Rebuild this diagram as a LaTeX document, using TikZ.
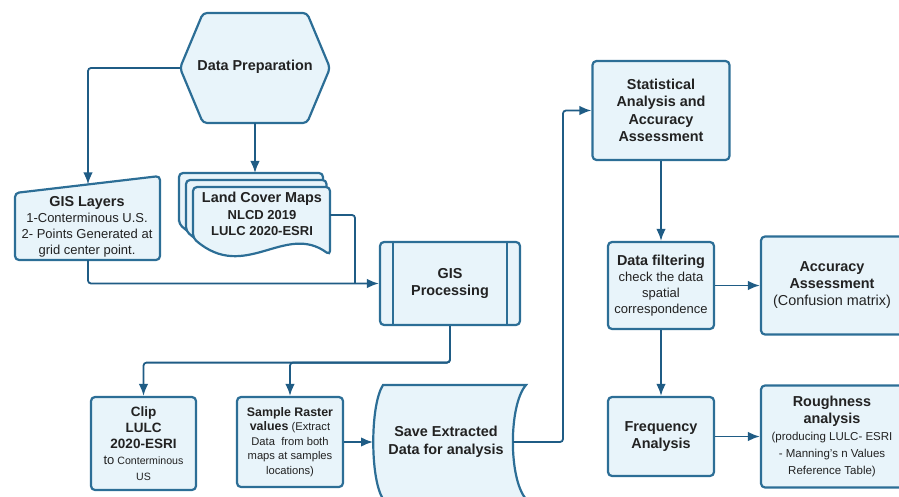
\documentclass[tikz,border=0pt]{standalone}
\usepackage{fontspec}
\setmainfont{Liberation Sans}
\usetikzlibrary{arrows.meta}
\definecolor{bordc}{HTML}{2C6E96}
\definecolor{linec}{HTML}{1F5C85}
\definecolor{fillc}{HTML}{E8F4FA}
\definecolor{txtc}{HTML}{222222}
\newcommand\ttl{\fontsize{14.4}{17}\selectfont\bfseries}
\newcommand\bdy{\fontsize{13}{16}\selectfont}
\tikzset{
  box/.style={draw=bordc, fill=fillc, line width=2.2pt, rounded corners=4pt,
    align=center, text=txtc, inner sep=2pt},
  outline/.style={draw=bordc, fill=fillc, line width=2.2pt, rounded corners=4pt},
  lbl/.style={align=center, text=txtc, inner sep=0pt},
  flow/.style={draw=linec, line width=1.8pt, rounded corners=3pt,
    -{Latex[length=12pt,width=9.5pt]}},
  link/.style={draw=linec, line width=1.8pt, rounded corners=3pt}
}

\begin{document}
\begin{tikzpicture}[x=1pt, y=-1pt]
    \useasboundingbox (0,0) rectangle (899,497);
    \draw[outline] (180,68) -- (203,13) -- (307,13) -- (330,68) -- (307,123) -- (203,123) -- cycle;
    \node[lbl, font=\ttl] (hx) at (255,67) {Data Preparation};
    \coordinate (pl) at (180,68);
    \coordinate (pb) at (255,123);
    \draw[outline] (15,193) -- (160,176) -- (160,260) -- (15,260) -- cycle;
    \node[lbl, font=\bdy] (gl) at (87,227) {{\ttl GIS Layers}\\1-Conterminous U.S.\\2- Points Generated at\\grid center point.};
    \coordinate (gt) at (88,184.4);
    \coordinate (gb) at (88,260);
    \foreach \d in {14,7,0}
      \draw[outline] (193-\d,238-\d) -- (193-\d,187-\d) -- (330-\d/2,187-\d) -- (330-\d/2,255-\d)
        .. controls (285-\d,222-\d) and (245-\d,283-\d) .. (193-\d,238-\d) -- cycle;
    \node[lbl, font=\fontsize{13}{16.5}\selectfont\bfseries] (lc) at (262,214) {{\fontsize{14.4}{16.5}\selectfont Land Cover Maps}\\NLCD 2019\\LULC 2020-ESRI};
    \coordinate (mt) at (255,173);
    \coordinate (mr) at (330,215);
    \coordinate (mj) at (355,283.5);
    \node[box, minimum width=140pt, minimum height=83pt, font=\ttl] (proc) at (450,283.5) {GIS\\Processing};
    \draw[bordc, line width=2.2pt] ([xshift=14pt]proc.north west) -- ([xshift=14pt]proc.south west);
    \draw[bordc, line width=2.2pt] ([xshift=-14pt]proc.north east) -- ([xshift=-14pt]proc.south east);
    \node[box, minimum width=105pt, minimum height=93pt, font=\fontsize{10.6}{16}\selectfont] (clip) at (143.5,443.5) {{\fontsize{13.5}{16}\selectfont\bfseries Clip}\\{\fontsize{13.5}{16}\selectfont\bfseries LULC}\\{\fontsize{13.5}{16}\selectfont\bfseries 2020-ESRI}\\{\bdy to} Conterminous\\US};
    \node[box, minimum width=106pt, minimum height=90pt, font=\fontsize{11.2}{14.5}\selectfont] (samp) at (290,442) {{\fontsize{12.4}{14.5}\selectfont\bfseries Sample Raster}\\{\fontsize{12.4}{14.5}\selectfont\bfseries values} (Extract\\Data\ \ from both\\maps at samples\\locations)};
    \draw[outline, sharp corners] (383,385) -- (526,385) .. controls (508.5,405) and (508.5,479) .. (526,499) -- (383,499) .. controls (370,479) and (370,405) .. (383,385) -- cycle;
    \node[lbl, font=\fontsize{14.4}{18}\selectfont\bfseries] (save) at (446,442) {Save Extracted\\Data for analysis};
    \coordinate (sl) at (373,442);
    \coordinate (sr) at (513,442);
    \node[box, minimum width=137pt, minimum height=99pt, font=\fontsize{14.4}{17.3}\selectfont\bfseries] (stat) at (661,110.5) {Statistical\\Analysis and\\Accuracy\\Assessment};
    \node[box, minimum width=106pt, minimum height=87pt, font=\bdy] (filt) at (661,285.5) {{\ttl Data filtering}\\check the data\\spatial\\correspondence};
    \node[box, minimum width=142pt, minimum height=98pt, font=\fontsize{14.4}{17}\selectfont] (acc) at (832,285.5) {{\bfseries Accuracy}\\{\bfseries Assessment}\\(Confusion matrix)};
    \node[box, minimum width=106pt, minimum height=79pt, font=\ttl] (freq) at (661,436.5) {Frequency\\Analysis};
    \node[box, minimum width=142pt, minimum height=102pt, font=\fontsize{11.5}{17}\selectfont] (rough) at (832,436.5) {{\ttl Roughness}\\{\ttl analysis}\\(producing LULC- ESRI\\- Manning's n Values\\Reference Table)};
    \draw[flow] (pl) -| (gt);
    \draw[flow] (pb) -- (mt);
    \draw[flow] (gb) |- (proc.west);
    \draw[link] (mr) -| (mj);
    \draw[flow] (proc.south) -- ++(0,36.5) -| (clip.north);
    \draw[flow] (proc.south) -- ++(0,36.5) -| (samp.north);
    \draw[flow] (samp.east) -- (sl);
    \draw[flow] (sr) -- ++(50,0) |- (stat.west);
    \draw[flow] (stat.south) -- (filt.north);
    \draw[flow] (filt.east) -- (acc.west);
    \draw[flow] (filt.south) -- (freq.north);
    \draw[flow] (freq.east) -- (rough.west);
\end{tikzpicture}
\end{document}
